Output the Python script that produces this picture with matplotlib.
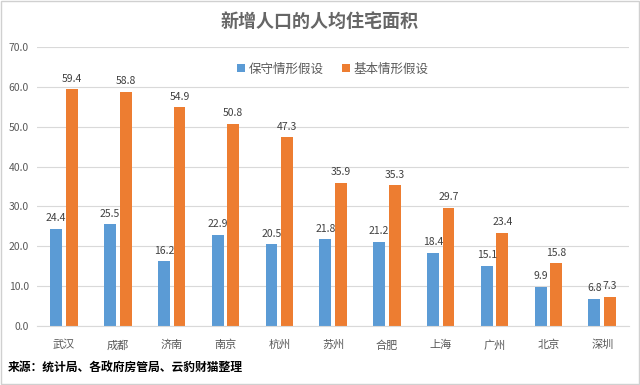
import matplotlib
matplotlib.use('Agg')
import matplotlib.pyplot as plt
from matplotlib.patches import Rectangle
import numpy as np

plt.rcParams['font.family'] = ['Noto Sans CJK SC', 'DejaVu Sans']

cities = ['武汉', '成都', '济南', '南京', '杭州', '苏州', '合肥', '上海', '广州', '北京', '深圳']
conservative = [24.4, 25.5, 16.2, 22.9, 20.5, 21.8, 21.2, 18.4, 15.1, 9.9, 6.8]
basic = [59.4, 58.8, 54.9, 50.8, 47.3, 35.9, 35.3, 29.7, 23.4, 15.8, 7.3]
series_names = ['保守情形假设', '基本情形假设']

blue = '#5B9BD5'
orange = '#ED7D31'
text_gray = '#595959'

fig = plt.figure(figsize=(6.4, 3.85), dpi=100)
ax = fig.add_axes([0.058, 0.153, 0.925, 0.725])

x = np.arange(len(cities))
w = 0.22
off = 0.145
b1 = ax.bar(x - off, conservative, w, color=blue, label=series_names[0])
b2 = ax.bar(x + off, basic, w, color=orange, label=series_names[1])

for bars, vals in ((b1, conservative), (b2, basic)):
    for bar, v in zip(bars, vals):
        ax.text(bar.get_x() + bar.get_width() / 2, v + 1.4, f'{v:.1f}',
                ha='center', va='bottom', fontsize=7.5, color='#404040')

ax.set_ylim(0, 70)
ax.set_xlim(-0.5, len(cities) - 0.5)
ax.set_yticks(np.arange(0, 71, 10))
ax.set_yticklabels([f'{v:.1f}' for v in np.arange(0, 71, 10)], fontsize=7.5, color=text_gray)
ax.set_xticks(x)
ax.set_xticklabels(cities, fontsize=8, color=text_gray)
ax.tick_params(axis='x', length=0, pad=10)
ax.tick_params(axis='y', length=0, pad=6)
ax.grid(axis='y', color='#D9D9D9', linewidth=0.8)
ax.set_axisbelow(True)
for s in ['top', 'right', 'left']:
    ax.spines[s].set_visible(False)
ax.spines['bottom'].set_color('#D9D9D9')

ax.legend(loc='upper center', bbox_to_anchor=(0.5, 0.985), ncol=2, frameon=False,
          fontsize=9, labelcolor=text_gray, handlelength=0.6, handleheight=0.6,
          columnspacing=1.5, handletextpad=0.3)

fig.text(0.5, 0.945, '新增人口的人均住宅面积', ha='center', va='center',
         fontsize=13, fontweight='bold', color='#666666')
fig.text(0.012, 0.045, '来源：统计局、各政府房管局、云豹财猫整理', ha='left', va='center',
         fontsize=8.5, fontweight='bold', color='#000000')

fig.patches.append(Rectangle((0.002, 0.003), 0.996, 0.994, transform=fig.transFigure,
                             fill=False, edgecolor='#D0D0D0', linewidth=1))

fig.savefig('out.png', dpi=100)
